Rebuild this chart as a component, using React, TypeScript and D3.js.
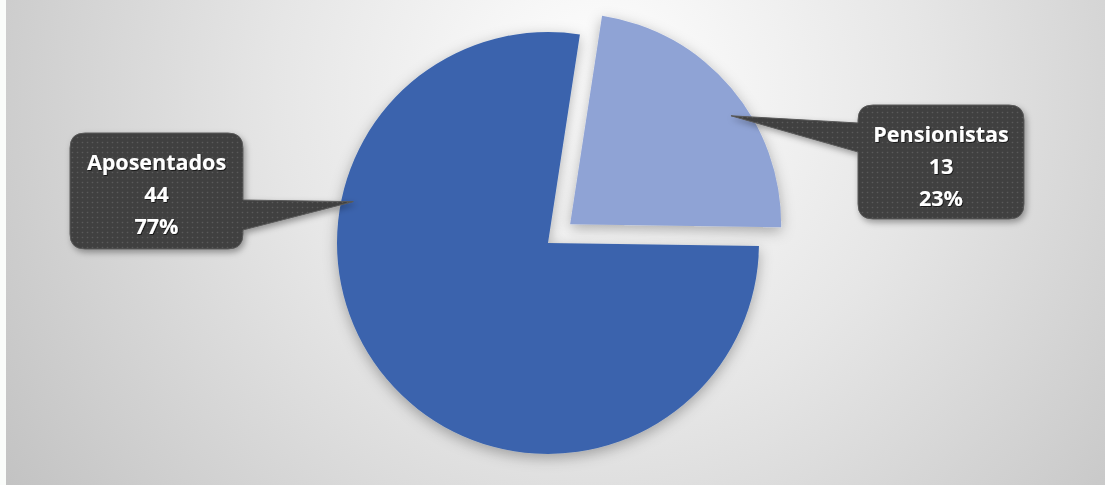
import { useMemo } from 'react'
import * as d3 from 'd3'

const categories = ['Aposentados', 'Pensionistas']
const values = [44, 13]
const percentLabels = ['77%', '23%']

const W = 1105
const H = 485
const CX = 548
const CY = 243
const R = 211
const START_ANGLE = (8.7 * Math.PI) / 180
const EXPLODE = 29
const COLORS = ['#3b64ad', '#8fa3d5']
const BOX_FILL = '#404040'
const FONT = "'Open Sans', 'DejaVu Sans', sans-serif"

// label layout: box rect + pointer tip (polar, relative to slice centre)
const LABELS = [
  { x: 70, y: 133, w: 173, h: 116, side: 'right', base: [200, 230], tipAngle: 282, tipR: 199 },
  { x: 858, y: 105, w: 166, h: 114, side: 'left', base: [123, 152], tipAngle: 56, tipR: 194 },
]

function calloutPath(b: typeof LABELS[number], tip: [number, number]) {
  const r = 15
  const { x, y, w, h } = b
  const [b0, b1] = b.base
  const p = d3.path()
  p.moveTo(x + r, y)
  p.lineTo(x + w - r, y)
  p.quadraticCurveTo(x + w, y, x + w, y + r)
  if (b.side === 'right') {
    p.lineTo(x + w, b0)
    p.lineTo(tip[0], tip[1])
    p.lineTo(x + w, b1)
  }
  p.lineTo(x + w, y + h - r)
  p.quadraticCurveTo(x + w, y + h, x + w - r, y + h)
  p.lineTo(x + r, y + h)
  p.quadraticCurveTo(x, y + h, x, y + h - r)
  if (b.side === 'left') {
    p.lineTo(x, b1)
    p.lineTo(tip[0], tip[1])
    p.lineTo(x, b0)
  }
  p.lineTo(x, y + r)
  p.quadraticCurveTo(x, y, x + r, y)
  p.closePath()
  return p.toString()
}

export default function App() {
  const slices = useMemo(() => {
    const share = values[0] / d3.sum(values)
    const pie = d3
      .pie<number>()
      .sort(null)
      .startAngle(START_ANGLE - share * 2 * Math.PI)
      .endAngle(START_ANGLE + (1 - share) * 2 * Math.PI)
    return pie(values)
  }, [])

  const arc = d3.arc<d3.PieArcDatum<number>>().innerRadius(0).outerRadius(R)

  const offsets = slices.map((s, i) => {
    if (i === 0) return [0, 0]
    const mid = (s.startAngle + s.endAngle) / 2
    return [Math.sin(mid) * EXPLODE, -Math.cos(mid) * EXPLODE]
  })

  return (
    <svg width={W} height={H} style={{ position: 'absolute', left: 0, top: 0 }}>
      <defs>
        <radialGradient id="bg" cx="600" cy="90" r="720" gradientUnits="userSpaceOnUse">
          <stop offset="0" stopColor="#ffffff" />
          <stop offset="0.45" stopColor="#e6e6e6" />
          <stop offset="1" stopColor="#c2c2c2" />
        </radialGradient>
        <filter id="pieShadow" x="-20%" y="-20%" width="140%" height="140%">
          <feDropShadow dx="0" dy="4" stdDeviation="7" floodColor="#000" floodOpacity="0.3" />
        </filter>
        <filter id="boxShadow" x="-20%" y="-20%" width="140%" height="140%">
          <feDropShadow dx="2" dy="3" stdDeviation="3" floodColor="#000" floodOpacity="0.35" />
        </filter>
        <filter id="textShadow" x="-10%" y="-30%" width="120%" height="160%">
          <feDropShadow dx="1" dy="1" stdDeviation="0.6" floodColor="#000" floodOpacity="0.6" />
        </filter>
        <pattern id="dots" width="5" height="5" patternUnits="userSpaceOnUse">
          <rect width="5" height="5" fill={BOX_FILL} />
          <circle cx="2.5" cy="2.5" r="0.8" fill="#5a5a5a" />
        </pattern>
      </defs>
      <rect x={0} y={0} width={W} height={H} fill="#fafcfa" />
      <rect x={6} y={0} width={W - 6} height={H} fill="url(#bg)" />

      <g transform={`translate(${CX},${CY})`}>
        {slices.map((s, i) => (
          <path
            key={categories[i]}
            d={arc(s) ?? ''}
            transform={`translate(${offsets[i][0]},${offsets[i][1]})`}
            fill={COLORS[i]}
            filter="url(#pieShadow)"
          />
        ))}
      </g>

      {LABELS.map((b, i) => {
        const a = (b.tipAngle * Math.PI) / 180
        const tip: [number, number] = [
          CX + offsets[i][0] + Math.sin(a) * b.tipR,
          CY + offsets[i][1] - Math.cos(a) * b.tipR,
        ]
        const tx = b.x + b.w / 2
        const lines = [categories[i], String(values[i]), percentLabels[i]]
        return (
          <g key={categories[i]}>
            <path d={calloutPath(b, tip)} fill="url(#dots)" stroke="#5a5a5a" strokeWidth={1} filter="url(#boxShadow)" />
            <g filter="url(#textShadow)">
              {lines.map((t, j) => (
                <text
                  key={j}
                  x={tx}
                  y={b.y + 29 + j * 32}
                  dy="0.35em"
                  textAnchor="middle"
                  fill="#ffffff"
                  fontFamily={FONT}
                  fontWeight="bold"
                  fontSize={21.5}
                >
                  {t}
                </text>
              ))}
            </g>
          </g>
        )
      })}
    </svg>
  )
}
